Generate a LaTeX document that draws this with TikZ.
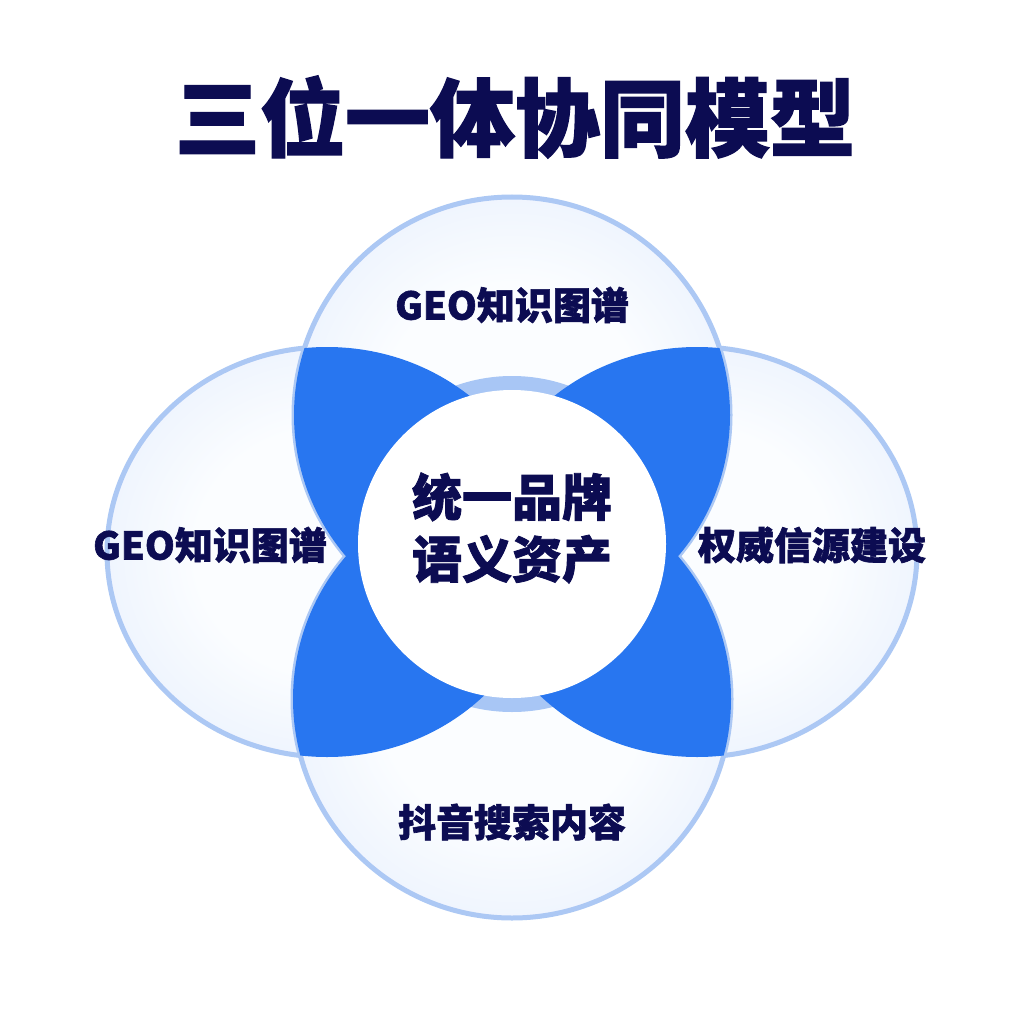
\documentclass[tikz,border=0pt]{standalone}
\usepackage{fontspec}
\newfontfamily\cjk{Noto Sans CJK SC}[BoldFeatures={FakeBold=1.6}]
\definecolor{navy}{RGB}{12,12,82}
\definecolor{lensblue}{RGB}{40,118,240}
\definecolor{ringblue}{RGB}{168,198,245}
\definecolor{rimblue}{RGB}{172,200,244}
\definecolor{discin}{RGB}{251,253,255}
\definecolor{discout}{RGB}{210,225,250}
\pgfdeclareradialshading{disc}{\pgfpoint{0bp}{0bp}}{color(0bp)=(discin); color(15bp)=(discin); color(50bp)=(discout); color(100bp)=(discout)}
\tikzset{
  lbl/.style={font=\cjk\bfseries\fontsize{38}{38}\selectfont, text=navy, inner sep=0pt},
  disc/.style={shading=disc, draw=rimblue, line width=5pt},
  lens/.style={fill=lensblue},
}
\begin{document}
\begin{tikzpicture}[x=1pt,y=-1pt]
\useasboundingbox[fill=white] (0,0) rectangle (1024,1024);
% outer circles
\path[disc] (327,552) ellipse [x radius=220pt, y radius=205pt];
\path[disc] (697,552) ellipse [x radius=220pt, y radius=205pt];
\path[disc] (512,415) circle [radius=218pt];
\path[disc] (512,699) circle [radius=219pt];
% ring
\fill[ringblue] (512,544) circle [radius=168pt];
% lenses
\begin{scope}
  \clip (512,415) circle [radius=218pt];
  \fill[lens] (327,552) ellipse [x radius=220pt, y radius=205pt];
  \fill[lens] (697,552) ellipse [x radius=220pt, y radius=205pt];
\end{scope}
\begin{scope}
  \clip (512,699) circle [radius=219pt];
  \fill[lens] (327,552) ellipse [x radius=220pt, y radius=205pt];
  \fill[lens] (697,552) ellipse [x radius=220pt, y radius=205pt];
\end{scope}
% centre
\fill[white] (512,544) circle [radius=154pt];
% texts
\node[font=\cjk\bfseries\fontsize{85}{85}\selectfont, text=navy, inner sep=0pt] (title) at (515,117) {三位一体协同模型};
\node[lbl] (top) at (512,305) {GEO知识图谱};
\node[lbl] (left) at (210,545) {GEO知识图谱};
\node[lbl] (right) at (812,545) {权威信源建设};
\node[lbl] (bottom) at (512,822) {抖音搜索内容};
\node[font=\cjk\bfseries\fontsize{50}{62}\selectfont, text=navy, align=center, inner sep=0pt] (core) at (512,528) {统一品牌\\语义资产};
\end{tikzpicture}
\end{document}
